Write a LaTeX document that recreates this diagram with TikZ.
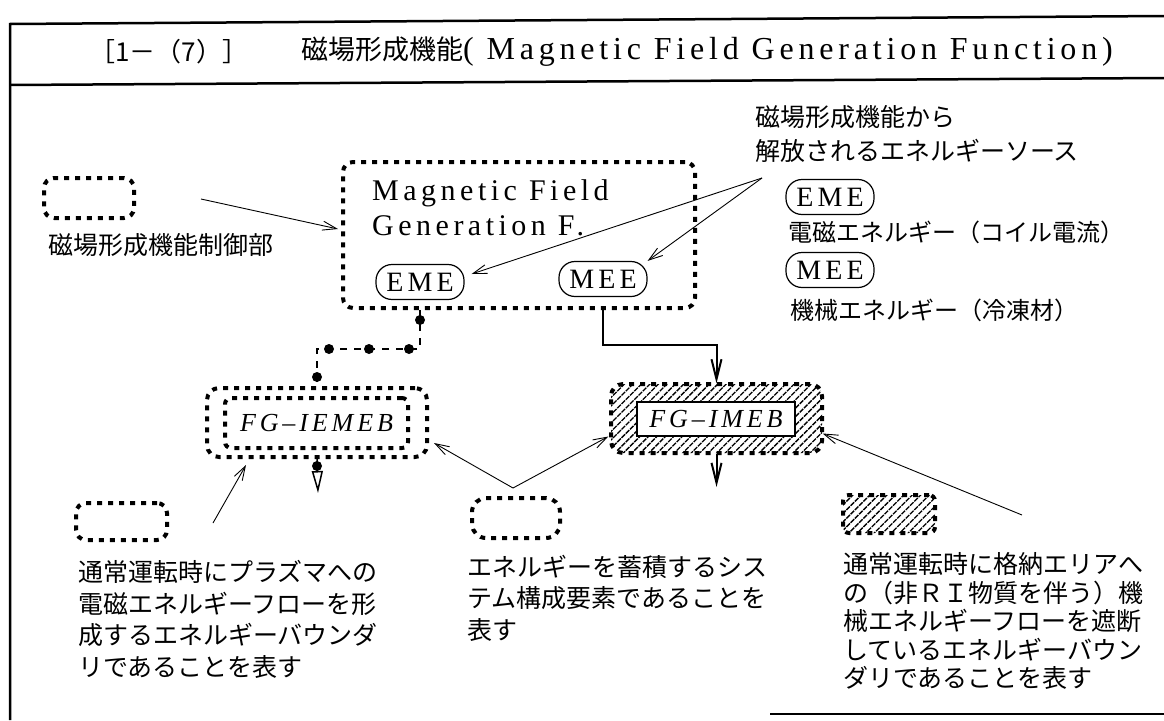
\documentclass[tikz,border=0pt]{standalone}
\usepackage{fontspec}
\setmainfont{Liberation Serif}
\newfontfamily\jp{Noto Sans CJK JP}
\newfontfamily\spaced[LetterSpace=15]{Liberation Serif}
\usetikzlibrary{calc, positioning, arrows.meta, patterns.meta, decorations.markings}

\tikzset{
  dotline/.style={line width=4pt, dash pattern=on 5pt off 6pt},
  fbox/.style={draw, dotline, rounded corners=10pt, inner sep=0pt},
  oval/.style={draw, line width=1.2pt, rounded corners=16pt, minimum width=88pt,
    minimum height=35pt, inner sep=0pt, font=\spaced\fontsize{28}{28}\selectfont},
  lead/.style={-{Straight Barb[length=14pt, width=9pt]}, line width=0.9pt},
  flow/.style={-{Straight Barb[length=20pt, width=10pt]}, line width=2pt},
  chain/.style={line width=2pt, dash pattern=on 7pt off 7pt,
    postaction={decorate, decoration={markings,
      mark=between positions 10pt and 1 step 40pt with {\fill circle (5pt);}}}},
  jtxt/.style={font=\jp\fontsize{25}{31.5}\selectfont, align=left, inner sep=0pt, anchor=north west},
  hatch/.style={pattern={Lines[angle=45, distance=6pt, line width=1.3pt]}},
}

\begin{document}
\begin{tikzpicture}[x=1pt, y=-1pt]
  \useasboundingbox (0,0) rectangle (1164,720);

  % frame and title
  \draw[line width=2.5pt] (1164,16) -- (10,24) -- (10,720);
  \draw[line width=2.5pt] (10,85) -- (1164,78);
  \draw[line width=2.5pt] (770,714) -- (1164,714);
  \node[font=\jp\fontsize{26}{26}\selectfont, anchor=west, inner sep=0pt] (ttlno) at (89,52) {［1－（7）］};
  \node[anchor=west, inner sep=0pt] (ttl) at (301,52)
    {{\jp\fontsize{27}{27}\selectfont 磁場形成機能}{\spaced\fontsize{32}{32}\selectfont( Magnetic Field Generation Function)}};

  % function block
  \node[fbox, minimum width=352pt, minimum height=146pt] (mfg) at (519,235) {};
  \node[font=\spaced\fontsize{30}{35}\selectfont, align=left, anchor=north west, inner sep=0pt]
    (mfgname) at (372,179) {Magnetic Field\\Generation F.};
  \node[oval] (emeIn) at (420,282) {EME};
  \node[oval] (meeIn) at (603,279) {MEE};

  \node[fbox, minimum width=90pt, minimum height=40pt] (ctrlKey) at (89,198) {};
  \node[jtxt, anchor=west] (ctrlTxt) at (48,245) {磁場形成機能制御部};
  \coordinate (ctrlPt) at (201,199);
  \draw[lead] (ctrlPt) -- ($(mfg.west)+(-3,-6)$);

  % energy sources
  \node[jtxt, font=\jp\fontsize{25}{34}\selectfont] (srcTxt) at (755,105.5)
    {磁場形成機能から\\解放されるエネルギーソース};
  \coordinate (srcApex) at (762,178);
  \draw[lead] (srcApex) -- ($(emeIn.east)+(7,-8)$);
  \draw[lead] (srcApex) -- (meeIn.north east);
  \node[oval] (emeKey) at (830,197) {EME};
  \node[jtxt, anchor=west, font=\jp\fontsize{24}{24}\selectfont] (emeTxt) at (788,232) {電磁エネルギー（コイル電流）};
  \node[oval] (meeKey) at (830,270) {MEE};
  \node[jtxt, anchor=west, font=\jp\fontsize{24}{24}\selectfont] (meeTxt) at (790,310) {機械エネルギー（冷凍材）};

  % boundaries
  \node[fbox, minimum width=220pt, minimum height=69pt, rounded corners=12pt] (iemeb) at (317,422.5) {};
  \node[fbox, minimum width=183pt, minimum height=50pt, rounded corners=6pt,
    font=\spaced\itshape\fontsize{26}{26}\selectfont] (iemebIn) at (316.5,423) {FG–IEMEB};
  \node[fbox, hatch, minimum width=211pt, minimum height=69pt, rounded corners=12pt] (imeb) at (716.5,418.5) {};
  \node[draw, fill=white, line width=1.2pt, minimum width=158pt, minimum height=34pt, inner sep=0pt,
    font=\spaced\itshape\fontsize{26}{26}\selectfont] (imebIn) at (716,419) {FG–IMEB};

  \draw[chain] (emeIn |- mfg.south) -- ++(0,39) -| (iemeb.north);
  \draw[flow] (meeIn |- mfg.south) -- ++(0,35) -| (imeb.north);
  \coordinate (iemebOut) at (318,493);
  \coordinate (imebOut) at (716.5,487);
  \draw[line width=1.5pt, -{Triangle[open, length=22pt, width=11pt]}] (iemeb.south) -- (iemebOut);
  \fill ($(iemeb.south)+(0,7)$) circle (5pt);
  \draw[flow] (imeb.south) -- (imebOut);

  % legend
  \node[fbox, minimum width=91pt, minimum height=37pt] (boundKey) at (121.5,521.5) {};
  \node[jtxt] (boundTxt) at (78,560.5)
    {通常運転時にプラズマへの\\電磁エネルギーフローを形\\成するエネルギーバウンダ\\リであることを表す};
  \coordinate (boundPt) at (213,523);
  \draw[lead] (boundPt) -- ($(iemeb.south west)+(41,6)$);

  \node[fbox, minimum width=88pt, minimum height=40pt, rounded corners=14pt] (storeKey) at (516,518) {};
  \node[jtxt] (storeTxt) at (467,554.5)
    {エネルギーを蓄積するシス\\テム構成要素であることを\\表す};
  \coordinate (storeApex) at (513,488);
  \draw[lead] (storeApex) -- ($(iemeb.south east)+(5,-16)$);
  \draw[lead] (storeApex) -- ($(imeb.west)+(-2,18)$);

  \node[fbox, hatch, minimum width=92pt, minimum height=38pt, rounded corners=6pt] (barrierKey) at (889,514) {};
  \node[jtxt, font=\jp\fontsize{25}{28.5}\selectfont] (barrierTxt) at (843,552.5)
    {通常運転時に格納エリアへ\\の（非ＲＩ物質を伴う）機\\械エネルギーフローを遮断\\しているエネルギーバウン\\ダリであることを表す};
  \coordinate (barrierPt) at (1022,515);
  \draw[lead] (barrierPt) -- ($(imeb.east)+(0,15)$);
\end{tikzpicture}
\end{document}
